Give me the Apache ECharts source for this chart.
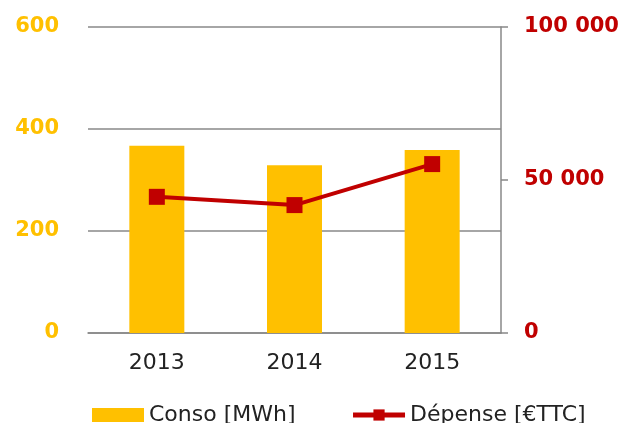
<!DOCTYPE html>
<html>
<head>
<meta charset="utf-8">
<script src="https://cdn.jsdelivr.net/npm/echarts@6/dist/echarts.min.js"></script>
<style>
  html, body { margin: 0; padding: 0; background: #fff; }
  #chart { width: 624px; height: 423px; }
</style>
</head>
<body>
<div id="chart"></div>
<script>
// data
var years = ["2013", "2014", "2015"];
var conso = [367, 329, 359];          // MWh
var depense = [44500, 41800, 55200];  // €TTC
var leftTicks = [0, 200, 400, 600];
var rightTicks = [0, 50000, 100000];

var FONT = "DejaVu Sans";

function spaced(v) {
  return String(v).replace(/\B(?=(\d{3})+(?!\d))/g, " ");
}

var chart = echarts.init(document.getElementById("chart"));
var option = {
  animation: false,
  textStyle: { fontFamily: FONT },
  grid: { left: 88, right: 123, top: 27, bottom: 90 },
  legend: {
    left: 87,
    top: 399,
    itemGap: 55,
    textStyle: { fontFamily: FONT, fontSize: 22, color: "#222" },
    data: [
      { name: "Conso [MWh]", icon: "rect" },
      { name: "Dépense [€TTC]", lineStyle: { width: 5 } }
    ],
    itemWidth: 52,
    itemHeight: 14
  },
  xAxis: {
    type: "category",
    data: years,
    axisLine: { show: true, lineStyle: { color: "#888", width: 1.5 } },
    axisTick: { show: false },
    axisLabel: { fontFamily: FONT, fontSize: 22, color: "#222", margin: 19 }
  },
  yAxis: [
    {
      type: "value",
      min: leftTicks[0],
      max: leftTicks[leftTicks.length - 1],
      interval: 200,
      axisLine: { show: false },
      axisTick: { show: false },
      splitLine: { lineStyle: { color: "#888", width: 1.5 } },
      axisLabel: { fontFamily: FONT, fontSize: 21, fontWeight: "bold", color: "#FFC000", margin: 29 }
    },
    {
      type: "value",
      min: rightTicks[0],
      max: rightTicks[rightTicks.length - 1],
      interval: 50000,
      position: "right",
      axisLine: { show: true, lineStyle: { color: "#888", width: 1.5 } },
      axisTick: { show: true, length: 7, lineStyle: { color: "#888", width: 1.5 } },
      splitLine: { show: false },
      axisLabel: {
        fontFamily: FONT, fontSize: 21, fontWeight: "bold", color: "#C00000", margin: 23,
        formatter: function (v) { return spaced(v); }
      }
    }
  ],
  series: [
    {
      name: "Conso [MWh]",
      type: "bar",
      data: conso,
      barWidth: 55,
      itemStyle: { color: "#FFC000" }
    },
    {
      name: "Dépense [€TTC]",
      type: "line",
      yAxisIndex: 1,
      data: depense,
      symbol: "rect",
      symbolSize: 16,
      lineStyle: { color: "#C00000", width: 4 },
      itemStyle: { color: "#C00000" }
    }
  ]
};
chart.setOption(option);
</script>
</body>
</html>
